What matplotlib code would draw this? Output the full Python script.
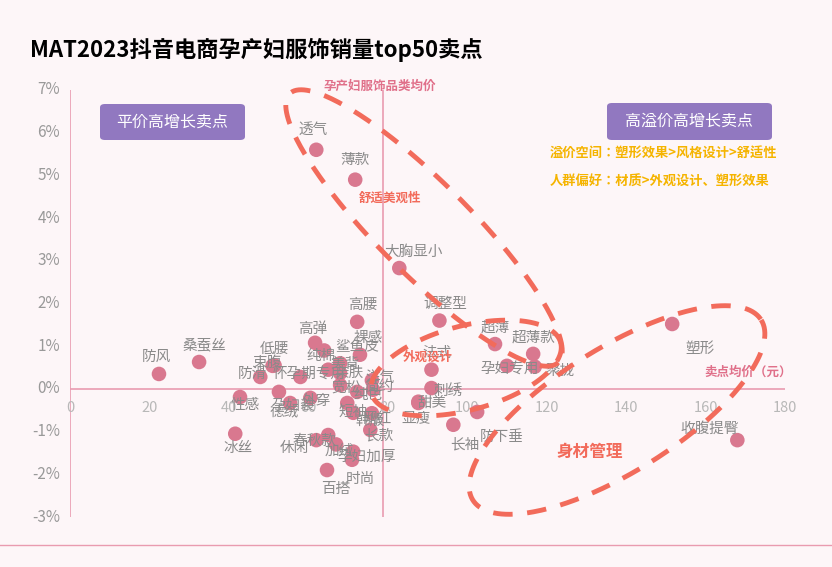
import numpy as np
import matplotlib
matplotlib.use("Agg")
import matplotlib.pyplot as plt
from matplotlib.patches import FancyBboxPatch
from matplotlib import font_manager

avail = {f.name for f in font_manager.fontManager.ttflist}
cjk = [n for n in ["Noto Sans CJK SC", "Noto Sans CJK JP", "Noto Sans CJK TC", "Noto Sans CJK KR"] if n in avail]
plt.rcParams['font.family'] = 'sans-serif'
plt.rcParams['font.sans-serif'] = cjk + ['DejaVu Sans']

labels = ["透气","薄款","大胸显小","高腰","调整型","超薄","超薄款","孕妇专用","聚拢","塑形","收腹提臀",
          "法式","刺绣","甜美","显瘦","长袖","防下垂","桑蚕丝","防风","束腹","低腰","防滑","性感","冰丝",
          "高弹","纯棉","鲨鱼皮","裸感","美背","洋气","怀孕期专用","亲肤","宽松","简约","纯色","外穿","德绒",
          "孕妇装","短袖","韩版","网红","长款","春秋款","加绒","孕妇加厚","时尚","百搭","休闲"]
x = [62,71.8,82.9,72.3,93,107,116.6,110,117,151.6,168,
     91,91,87.7,87.7,96.5,102.5,32.5,22.4,51,51.5,47.9,42.8,41.6,
     61.7,64,68,73,65,76,58,68,68,76.3,72.3,60.5,55.4,
     52.6,69.8,71.3,76,75.6,65,67,71.3,71,64.7,62]
y = [5.6,4.9,2.83,1.57,1.6,1.05,0.82,0.54,0.52,1.52,-1.2,
     0.45,0.02,-0.33,-0.3,-0.84,-0.54,0.63,0.35,0.54,0.55,0.28,-0.19,-1.05,
     1.08,0.9,0.6,0.8,0.45,0.2,0.28,0.37,0.09,-0.02,-0.07,-0.21,-0.33,
     -0.07,-0.33,-0.56,-0.57,-0.96,-1.08,-1.3,-1.47,-1.66,-1.9,-1.2]
# label offsets in points (layout)
off = [(-2,14),(0,14),(10,12),(4,12),(4,12),(0,12),(0,12),(2,-2),(18,-3),(20,-18),(-20,8),
       (4,12),(12,-2),(10,0),(-2,-12),(8,-14),(18,-18),(4,12),(-2,12),(-4,2),(0,12),(-6,2),(4,-6),(2,-10),
       (-2,10),(-2,-4),(12,12),(6,12),(12,4),(6,2),(6,2),(6,0),(4,-2),(4,2),(8,-2),(4,-2),(-4,-6),
       (10,-10),(4,-6),(12,-6),(4,-4),(6,-4),(-10,-4),(2,-4),(10,-4),(6,-14),(6,-14),(-16,-6)]

W, H = 832, 567
fig = plt.figure(figsize=(W/100, H/100), dpi=100)
fig.patch.set_facecolor("#fdf6f8")
ax = fig.add_axes([70/W, 1-517/H, 715/W, 427/H])
ax.set_facecolor("#fdf6f8")
ax.set_xlim(0, 180); ax.set_ylim(-3, 7)
for s in ax.spines.values(): s.set_visible(False)
ax.set_xticks([]); ax.set_yticks([])
pink = "#e99bb0"
ax.axvline(0, color=pink, lw=1.2)
ax.axhline(0, color=pink, lw=1.2)
ax.axvline(78.8, color=pink, lw=1.2)
fig.add_artist(plt.Line2D([0, 1], [1-545/H]*2, color=pink, lw=1))
for t in range(0, 181, 20):
    ax.text(t, -0.28, str(t), ha='center', va='top', color='#b8b8b8', fontsize=10.5)
for t in range(-3, 8):
    ax.text(-2.5, t, f"{t}%", ha='right', va='center', color='#999999', fontsize=11)

ax.scatter(x, y, s=110, color="#d9788f", zorder=3, edgecolors='none')
for lb, xi, yi, (dx, dy) in zip(labels, x, y, off):
    ax.annotate(lb, (xi, yi), xytext=(dx, dy), textcoords='offset points',
                ha='center', va='center', fontsize=10.5, color='#8a8a8a', zorder=4)

def ell(cx, cy, a, b, ang):
    t = np.linspace(0, 2*np.pi, 300)
    r = np.deg2rad(ang)
    px = cx + a*np.cos(t)*np.cos(r) - b*np.sin(t)*np.sin(r)
    py = cy + a*np.cos(t)*np.sin(r) + b*np.sin(t)*np.cos(r)
    fig.add_artist(plt.Line2D(px/W, 1-py/H, color="#f26b5b", lw=3.5, ls=(0, (4, 3)), zorder=5))
ell(424, 228, 190, 46, 45)
ell(466, 368, 98, 42, -15)
ell(617, 410, 170, 62, -32)

fig.text(30/W, 1-50/H, "MAT2023抖音电商孕产妇服饰销量top50卖点", fontsize=16, fontweight='bold', va='center')
fig.text(380/W, 1-86/H, "孕产妇服饰品类均价", fontsize=9, fontweight='bold', color='#e0708a', ha='center', va='center')
fig.text(748/W, 1-372/H, "卖点均价（元）", fontsize=9, fontweight='bold', color='#e0708a', ha='center', va='center')
fig.text(390/W, 1-198/H, "舒适美观性", fontsize=9, fontweight='bold', color='#f26b5b', ha='center', va='center')
fig.text(428/W, 1-357/H, "外观设计", fontsize=9, fontweight='bold', color='#f26b5b', ha='center', va='center')
fig.text(590/W, 1-452/H, "身材管理", fontsize=12, fontweight='bold', color='#f26b5b', ha='center', va='center')
fig.text(550/W, 1-153/H, "溢价空间：塑形效果>风格设计>舒适性", fontsize=9.5, fontweight='bold', color='#f5b400', va='center')
fig.text(550/W, 1-182/H, "人群偏好：材质>外观设计、塑形效果", fontsize=9.5, fontweight='bold', color='#f5b400', va='center')
for (x0, y0, x1, y1, txt) in [(100, 104, 245, 140, "平价高增长卖点"), (607, 103, 772, 140, "高溢价高增长卖点")]:
    fig.add_artist(FancyBboxPatch((x0/W, 1-y1/H), (x1-x0)/W, (y1-y0)/H,
                                  boxstyle="round,pad=0,rounding_size=0.006", fc="#9178c0", ec='none'))
    fig.text((x0+x1)/2/W, 1-(y0+y1)/2/H, txt, color='white', fontsize=11.5, ha='center', va='center')

fig.savefig("out.png", dpi=100, facecolor=fig.get_facecolor())
